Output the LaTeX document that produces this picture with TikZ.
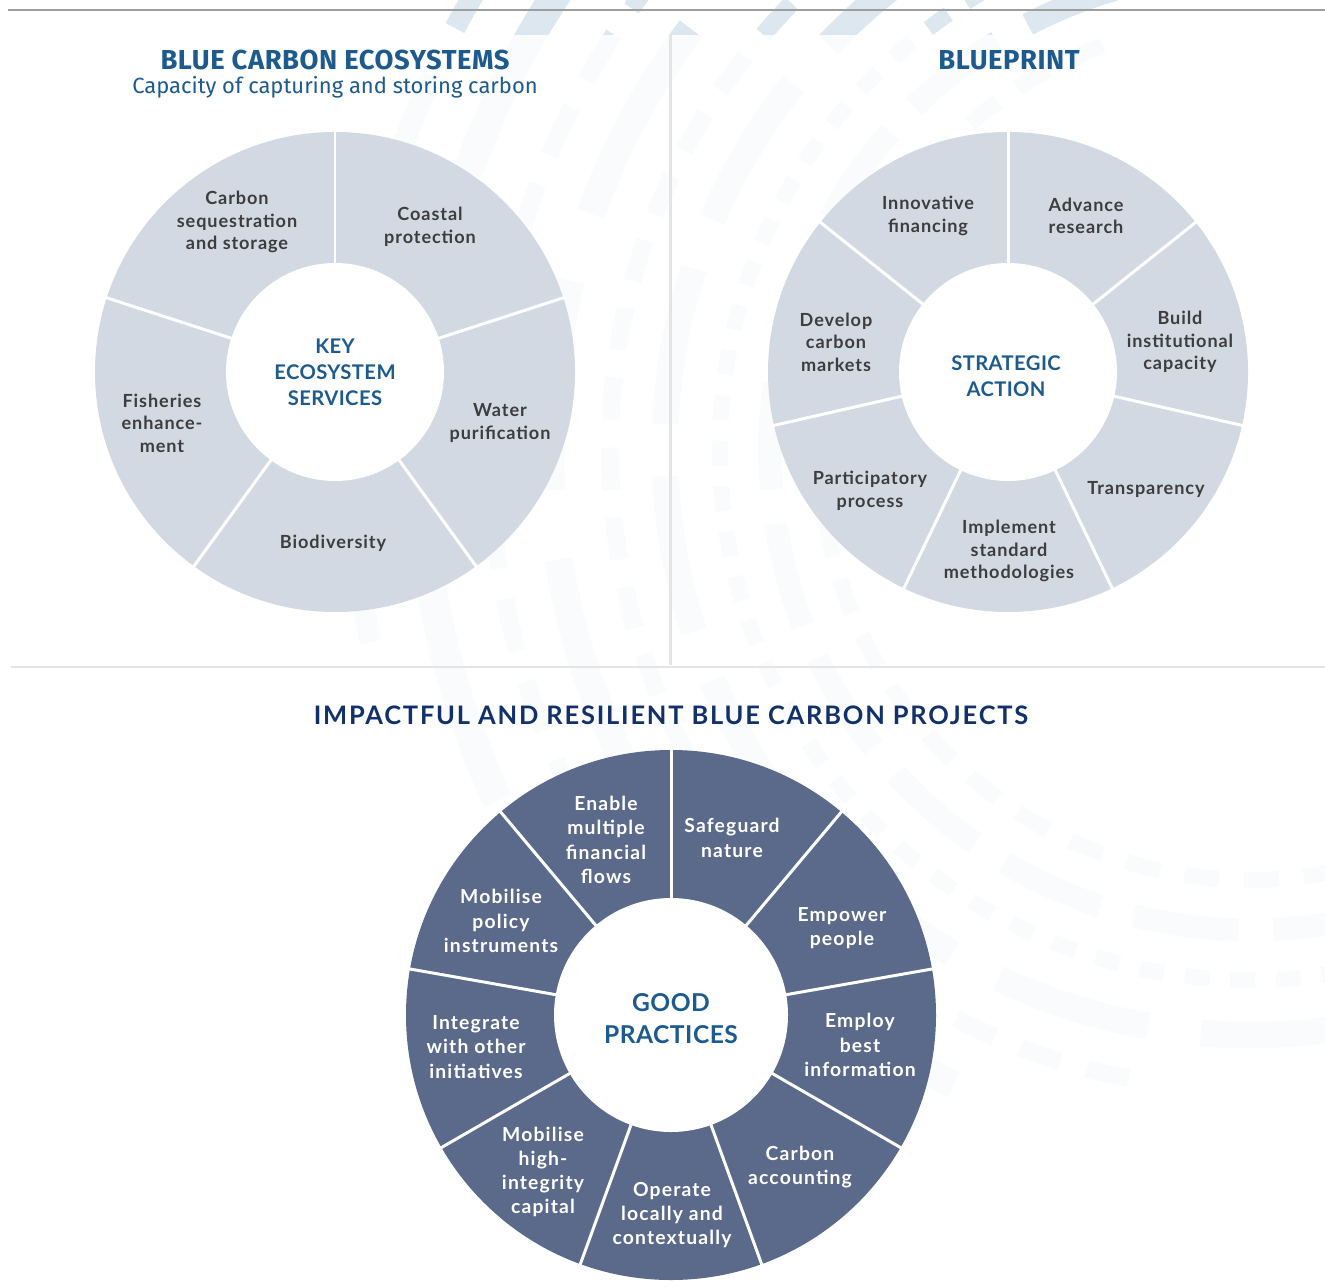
\documentclass[tikz,border=0pt]{standalone}
\usepackage{fontspec}
\setmainfont{Lato}
\newfontfamily\titlefont{Fira Sans}
\usepackage{tikz}
\usetikzlibrary{positioning}
\definecolor{ringgray}{HTML}{D3D9E2}
\definecolor{ringnavy}{HTML}{5B6A8A}
\definecolor{labelgray}{HTML}{3D3D3D}
\definecolor{headblue}{HTML}{1D5A8E}
\definecolor{navytitle}{HTML}{12316B}
\definecolor{rulegray}{HTML}{E4E4E4}
\definecolor{decoblue}{HTML}{DCE7EF}
\tikzstyle{seg}   = [font=\fontsize{10.3}{12.8}\selectfont\bfseries\addfontfeature{LetterSpace=5}, text=labelgray, align=center]
\tikzstyle{segw}  = [font=\fontsize{11}{13.8}\selectfont\bfseries\addfontfeature{LetterSpace=6}, text=white, align=center]
\tikzstyle{hub}   = [font=\fontsize{11.5}{14.8}\selectfont\bfseries\addfontfeature{LetterSpace=2}, text=headblue, align=center]
\tikzstyle{bighub}= [font=\fontsize{14}{18.2}\selectfont\bfseries\addfontfeature{LetterSpace=2}, text=headblue, align=center]
\tikzstyle{head}  = [font=\titlefont\fontsize{15.6}{18}\selectfont\bfseries\addfontfeature{LetterSpace=2}, text=headblue]
\tikzstyle{cut}   = [white, line width=1.7pt]
\begin{document}
\begin{tikzpicture}[x=0.02cm, y=0.02cm]
	\useasboundingbox (0,0) rectangle (1325,-1287);

	% faint arcs behind everything
	\begin{scope}
		\clip (0,0) rectangle (1325,-1287);
		\foreach \r/\w/\on/\off/\sa/\ea in {430/9pt/20pt/14pt/110/300, 480/13pt/60pt/20pt/105/300,
			530/9pt/14pt/12pt/100/295, 585/15pt/90pt/30pt/100/290, 640/10pt/24pt/16pt/98/260,
			700/16pt/120pt/40pt/97/245, 760/10pt/30pt/18pt/96/230, 830/17pt/150pt/45pt/95/205,
			900/12pt/60pt/30pt/95/195}
			\draw[decoblue, line width=\w, dash pattern=on \on off \off]
				(1250,-450) ++(\sa:\r) arc[start angle=\sa, end angle=\ea, radius=\r];
		\fill[white, opacity=0.86] (0,-35) rectangle (1325,-1287);
	\end{scope}

	% rules
	\draw[black!38, line width=0.85pt] (8,-10) -- (1325,-10);
	\draw[rulegray, line width=1.7pt] (670,-35) -- (670,-665);
	\draw[rulegray, line width=1.7pt] (11,-667) -- (1325,-667);

	% titles
	\node[head] (bce) at (335,-60) {BLUE CARBON ECOSYSTEMS};
	\node[font=\titlefont\fontsize{12.5}{14}\selectfont, text=headblue, below=-6 of bce] (cap) {Capacity of capturing and storing carbon};
	\node[head] (bp) at (1009,-60) {BLUEPRINT};
	\node[font=\fontsize{14.5}{17}\selectfont\bfseries\addfontfeature{LetterSpace=7}, text=navytitle] (irp) at (671,-715) {IMPACTFUL AND RESILIENT BLUE CARBON PROJECTS};

	% left ring
	\coordinate (kc) at (335,-372);
	\fill[ringgray] (kc) circle (240);
	\fill[white] (kc) circle (109);
	\foreach \a in {90,18,-54,-126,-198}
		\draw[cut] (kc) ++(\a:108) -- ++(\a:134);
	\node[hub] (kes) at (kc) {KEY\\ECOSYSTEM\\SERVICES};
	\node[seg] (csq) at (237,-222) {Carbon\\sequestration\\and storage};
	\node[seg] (cpr) at (430,-227) {Coastal\\protection};
	\node[seg] (wpu) at (500,-423) {Water\\purification};
	\node[seg] (bio) at (333,-543) {Biodiversity};
	\node[seg] (fen) at (162,-423) {Fisheries\\enhance-\\ment};

	% right ring
	\coordinate (sc) at (1008,-372);
	\fill[ringgray] (sc) circle (240);
	\fill[white] (sc) circle (109);
	\foreach \k in {0,...,6}
		\draw[cut] (sc) ++({90-\k*360/7}:108) -- ++({90-\k*360/7}:134);
	\node[hub] (sta) at (1006,-376) {STRATEGIC\\ACTION};
	\node[seg] (ifi) at (928,-216) {Innovative\\financing};
	\node[seg] (are) at (1086,-216) {Advance\\research};
	\node[seg] (bic) at (1180,-342) {Build\\institutional\\capacity};
	\node[seg] (tra) at (1146,-489) {Transparency};
	\node[seg] (ism) at (1009,-551) {Implement\\standard\\methodologies};
	\node[seg] (ppr) at (870,-491) {Participatory\\process};
	\node[seg] (dcm) at (836,-342) {Develop\\carbon\\markets};

	% bottom ring
	\coordinate (gc) at (671,-1015);
	\fill[ringnavy] (gc) circle (265);
	\fill[white] (gc) circle (117);
	\foreach \k in {0,...,8}
		\draw[cut] (gc) ++({90-\k*40}:116) -- ++({90-\k*40}:151);
	\node[bighub] (gpr) at (671,-1019) {GOOD\\PRACTICES};
	\node[segw] (emf) at (606,-840) {Enable\\multiple\\financial\\flows};
	\node[segw] (sna) at (732,-838) {Safeguard\\nature};
	\node[segw] (epe) at (842,-928) {Empower\\people};
	\node[segw] (ebi) at (860,-1045) {Employ\\best\\information};
	\node[segw] (cac) at (800,-1167) {Carbon\\accounting};
	\node[segw] (olc) at (672,-1215) {Operate\\locally and\\contextually};
	\node[segw] (mhc) at (543,-1172) {Mobilise\\high-\\integrity\\capital};
	\node[segw] (iwo) at (476,-1047) {Integrate\\with other\\initiatives};
	\node[segw] (mpi) at (501,-921) {Mobilise\\policy\\instruments};
\end{tikzpicture}
\end{document}
